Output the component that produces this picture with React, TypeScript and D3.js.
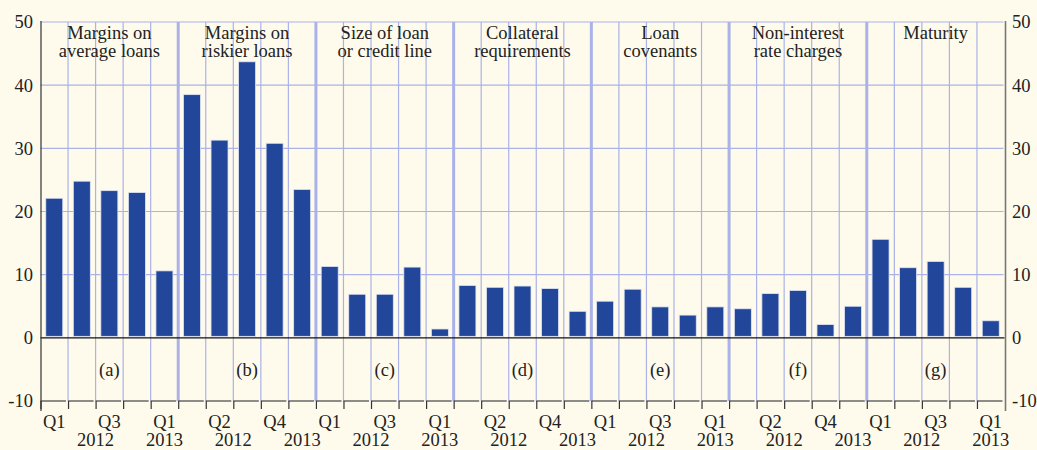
import React from "react";
import * as d3 from "d3";

const groupTitles: string[][] = [
  ["Margins on", "average loans"],
  ["Margins on", "riskier loans"],
  ["Size of loan", "or credit line"],
  ["Collateral", "requirements"],
  ["Loan", "covenants"],
  ["Non-interest", "rate charges"],
  ["Maturity"],
];
const panelLabels = ["(a)", "(b)", "(c)", "(d)", "(e)", "(f)", "(g)"];
const quarters = ["Q1", "Q2", "Q3", "Q4", "Q1"];
const years = ["2012", "2013"];

const marginsAverage = [22.1, 24.8, 23.3, 23.0, 10.6];
const marginsRiskier = [38.5, 31.3, 43.7, 30.8, 23.5];
const sizeOfLoan = [11.3, 6.9, 6.9, 11.2, 1.4];
const collateral = [8.3, 8.0, 8.2, 7.8, 4.2];
const covenants = [5.8, 7.7, 4.9, 3.6, 4.9];
const nonInterest = [4.6, 7.0, 7.5, 2.1, 5.0];
const maturity = [15.6, 11.1, 12.1, 8.0, 2.7];

const series = [marginsAverage, marginsRiskier, sizeOfLoan, collateral, covenants, nonInterest, maturity];
const yTicks = [-10, 0, 10, 20, 30, 40, 50];

const W = 1037;
const H = 450;
const left = 40.5;
const right = 1004.5;
const top = 22;
const bottom = 401;

const BG = "#fffbec";
const GRID = "#aab2e8";
const BAR = "#22479a";
const TEXT = "#222222";
const FONT = "'Liberation Serif', 'Times New Roman', serif";
const FS = 18.5;

export default function App() {
  const flat = series.flatMap((s, g) => s.map((v, q) => ({ g, q, v, i: g * 5 + q })));
  const n = flat.length;
  const x = d3.scaleLinear().domain([0, n]).range([left, right]);
  const y = d3.scaleLinear().domain([-10, 50]).range([bottom, top]);
  const slot = x(1) - x(0);
  const barW = 17;
  const groupW = slot * 5;

  const boundaries = d3.range(1, n);

  return (
    <div style={{ position: "fixed", left: 0, top: 0, width: W, height: H, background: BG }}>
      <svg width={W} height={H} style={{ display: "block", fontFamily: FONT }}>
        <rect x={0} y={0} width={W} height={H} fill={BG} />
        {yTicks
          .filter((t) => t > 0)
          .map((t) => (
            <line key={"h" + t} x1={left} x2={right - 1} y1={y(t)} y2={y(t)} stroke={GRID} strokeWidth={1.2} />
          ))}
        {boundaries.map((b) => {
          const sep = b % 5 === 0;
          return (
            <line
              key={"v" + b}
              x1={x(b)}
              x2={x(b)}
              y1={top}
              y2={bottom}
              stroke={GRID}
              strokeWidth={sep ? 3 : 1.2}
            />
          );
        })}
        {flat.map((d) => (
          <rect
            key={"b" + d.i}
            x={x(d.i + 0.5) - barW / 2}
            y={y(d.v)}
            width={barW}
            height={y(0) - y(d.v) - 1.5}
            fill={BAR}
            stroke="#dfe4f4"
            strokeWidth={0.8}
          />
        ))}
        <line x1={left} x2={right} y1={y(0)} y2={y(0)} stroke="#111" strokeWidth={1.4} />
        <line x1={left + 0.5} x2={left + 0.5} y1={top - 1} y2={bottom + 10} stroke="#333" strokeWidth={1.2} />
        <line x1={right + 1} x2={right + 1} y1={top - 1} y2={bottom + 10} stroke="#777" strokeWidth={1.6} />
        {d3.range(0, n).map((b) => (
          <g key={"ax" + b}>
            <line x1={x(b)} x2={x(b + 1) - 2} y1={bottom} y2={bottom} stroke="#444" strokeWidth={1.2} />
            <line x1={x(b) + 0.5} x2={x(b) + 0.5} y1={bottom} y2={bottom + 8} stroke="#333" strokeWidth={1.2} />
          </g>
        ))}
        {yTicks.map((t) => (
          <g key={"yl" + t}>
            <text x={33} y={y(t)} dy="0.35em" textAnchor="end" fontSize={FS} fill={TEXT}>
              {t}
            </text>
            <text x={1012} y={y(t)} dy="0.35em" textAnchor="start" fontSize={FS} fill={TEXT}>
              {t}
            </text>
          </g>
        ))}
        {groupTitles.map((lines, g) => {
          const cx = x(g * 5) + groupW / 2;
          return (
            <g key={"gt" + g}>
              {lines.map((ln, k) => (
                <text key={k} x={cx} y={39 + k * 18} textAnchor="middle" fontSize={FS} fill={TEXT}>
                  {ln}
                </text>
              ))}
              <text x={cx} y={y(-5)} dy="0.35em" textAnchor="middle" fontSize={FS} fill={TEXT}>
                {panelLabels[g]}
              </text>
            </g>
          );
        })}
        {series.map((_, g) => {
          const shown = g % 2 === 0 ? [0, 2, 4] : [1, 3];
          const y2012 = (x(g * 5) + x(g * 5 + 4)) / 2;
          const y2013 = x(g * 5 + 4.5);
          return (
            <g key={"xl" + g}>
              {shown.map((q) => (
                <text key={q} x={x(g * 5 + q + 0.5)} y={428} textAnchor="middle" fontSize={FS} fill={TEXT}>
                  {quarters[q]}
                </text>
              ))}
              <text x={y2012} y={446} textAnchor="middle" fontSize={FS} fill={TEXT}>
                {years[0]}
              </text>
              <text x={y2013} y={446} textAnchor="middle" fontSize={FS} fill={TEXT}>
                {years[1]}
              </text>
            </g>
          );
        })}
      </svg>
    </div>
  );
}
